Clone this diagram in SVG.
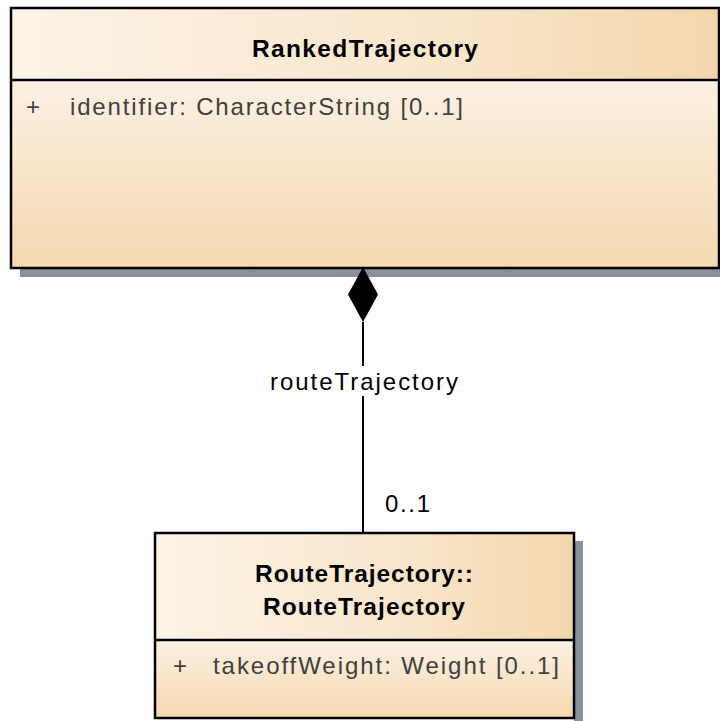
<svg xmlns="http://www.w3.org/2000/svg" width="720" height="721" viewBox="0 0 720 721">
<defs>
<linearGradient id="hg" x1="0" y1="0" x2="1" y2="0">
<stop offset="0" stop-color="#FCF3E7"/>
<stop offset="0.6" stop-color="#F9E6CC"/>
<stop offset="1" stop-color="#F4D7AC"/>
</linearGradient>
<linearGradient id="vg" x1="0" y1="0" x2="0" y2="1">
<stop offset="0" stop-color="#FCF1E3"/>
<stop offset="1" stop-color="#F4D8AF"/>
</linearGradient>
<style>
.box{stroke:#000;stroke-width:2.5}
.div{stroke:#000;stroke-width:2.5}
.sh{fill:#8A8F9E}
.title{font-family:"Liberation Sans",Arial,sans-serif;font-weight:bold;font-size:24.5px;fill:#000;text-anchor:middle}
.attr{font-family:"Liberation Sans",Arial,sans-serif;font-size:24px;fill:#404040}
.lbl{font-family:"Liberation Sans",Arial,sans-serif;font-size:24px;fill:#000}
.line{stroke:#000;stroke-width:2;fill:none}
</style>
</defs>
<g id="RankedTrajectory">
<rect class="sh" x="20" y="268" width="700" height="9"/>
<rect x="11" y="8" width="708" height="72" fill="url(#hg)"/>
<rect x="11" y="80" width="708" height="188" fill="url(#vg)"/>
<rect class="box" x="11" y="8" width="708" height="260" fill="none"/>
<line class="div" x1="11" y1="80" x2="719" y2="80"/>
<text class="title" x="365" y="57" textLength="226" lengthAdjust="spacing">RankedTrajectory</text>
<text class="attr" x="26" y="115">+</text>
<text class="attr" x="70" y="115" textLength="393" lengthAdjust="spacing">identifier: CharacterString [0..1]</text>
</g>
<g id="RouteTrajectory">
<rect class="sh" x="574" y="541" width="9" height="180"/>
<rect x="155" y="533" width="419" height="107" fill="url(#hg)"/>
<rect x="155" y="640" width="419" height="78" fill="url(#vg)"/>
<rect class="box" x="155" y="533" width="419" height="185" fill="none"/>
<line class="div" x1="155" y1="640" x2="574" y2="640"/>
<text class="title" x="364" y="582" textLength="218" lengthAdjust="spacing">RouteTrajectory::</text>
<text class="title" x="364" y="615" textLength="202" lengthAdjust="spacing">RouteTrajectory</text>
<text class="attr" x="173" y="674">+</text>
<text class="attr" x="213" y="674" textLength="346" lengthAdjust="spacing">takeoffWeight: Weight [0..1]</text>
</g>
<g id="connectors">
<line class="line" x1="363" y1="322" x2="363" y2="533"/>
<polygon points="363,267 378,294.5 363,322 348,294.5" fill="#000"/>
<rect x="268" y="366" width="192" height="30" fill="#fff"/>
<text class="lbl" x="364" y="390" text-anchor="middle" textLength="188" lengthAdjust="spacing">routeTrajectory</text>
<text class="lbl" x="385" y="512" textLength="45" lengthAdjust="spacing">0..1</text>
</g>
</svg>
